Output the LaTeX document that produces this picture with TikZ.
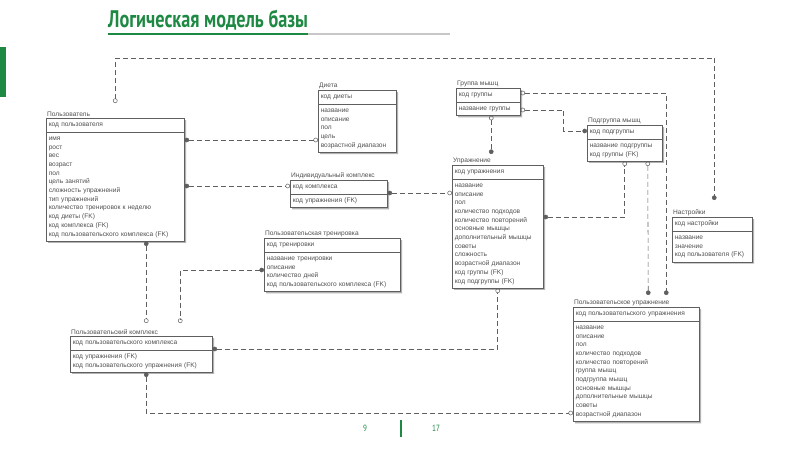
\documentclass[tikz,border=0pt]{standalone}
\usepackage{fontspec}
\setmainfont{Liberation Sans}
\newfontfamily\titlefont[FakeStretch=0.76]{PT Sans}
\newfontfamily\footfont[FakeStretch=0.8]{PT Sans}
\usetikzlibrary{shapes.multipart, arrows.meta, shadows}
\definecolor{slidegreen}{RGB}{30,137,66}
\definecolor{erline}{RGB}{95,95,95}
\definecolor{ertext}{RGB}{80,80,80}
\tikzset{
    % Entity box - key part on top, attributes below
    entity/.style={rectangle split, rectangle split parts=2, draw=erline, line width=0.5pt,
        fill=white, align=left, anchor=north west, inner xsep=2.5pt, inner ysep=2.2pt,
        font=\fontsize{6.6}{8.7}\selectfont, text=ertext,
        drop shadow={shadow xshift=1.8pt, shadow yshift=-1.8pt, fill=black!30, opacity=1}},
    % Entity name above the box
    entity name/.style={anchor=south west, inner sep=1pt, text=ertext,
        font=\fontsize{6.6}{8}\selectfont},
    % Relationship lines - gray dashed
    rel/.style={draw=erline, line width=0.55pt, dash pattern=on 5pt off 3pt},
    % Line ends: filled dot (many side) and hollow circle (zero or one)
    fdot/.tip={Circle[length=4.6pt]},
    hdot/.tip={Circle[open, length=4.6pt, line width=0.5pt]},
    % Slide footer
    pagenum/.style={text=slidegreen, inner sep=0pt, font=\footfont\fontsize{9}{10}\selectfont}
}

\begin{document}
\begin{tikzpicture}[x=1pt, y=-1pt]
    \useasboundingbox (0,0) rectangle (800,450);

    % --- Slide title ---
    \fill[slidegreen] (0,47) rectangle (6,97);
    \node[anchor=base west, inner sep=0pt, text=slidegreen,
        font=\titlefont\bfseries\fontsize{24}{28}\selectfont] (title) at (108,27) {Логическая модель базы};
    \draw[slidegreen, line width=2pt] ([yshift=-7pt]title.base west) -- ([yshift=-7pt]title.base east);
    \draw[black!22, line width=1.3pt] ([yshift=-7pt]title.base east) -- ([xshift=342pt,yshift=-7pt]title.base west);

    % --- Entities ---
    \node[entity, text width=133pt, label={[entity name]north west:Пользователь}] (user) at (46,118)
        {\strut код пользователя\strut
         \nodepart{two}\strut имя\\рост\\вес\\возраст\\пол\\цель занятий\\сложность упражнений\\тип упражнений\\количество тренировок к неделю\\код диеты (FK)\\код комплекса (FK)\\код пользовательского комплекса (FK)\strut};

    \node[entity, text width=73pt, label={[entity name]north west:Диета}] (diet) at (318,90)
        {\strut код диеты\strut
         \nodepart{two}\strut название\\описание\\пол\\цель\\возрастной диапазон\strut};

    \node[entity, text width=59pt, label={[entity name]north west:Группа мышц}] (mgroup) at (456,88)
        {\strut код группы\strut
         \nodepart{two}\strut название группы\strut};

    \node[entity, text width=70pt, label={[entity name]north west:Подгруппа мышц}] (msub) at (587,125)
        {\strut код подгруппы\strut
         \nodepart{two}\strut название подгруппы\\код группы (FK)\strut};

    \node[entity, text width=86pt, label={[entity name]north west:Упражнение}] (exer) at (452,165)
        {\strut код упражнения\strut
         \nodepart{two}\strut название\\описание\\пол\\количество подходов\\количество повторений\\основные мышцы\\дополнительный мышцы\\советы\\сложность\\возрастной диапазон\\код группы (FK)\\код подгруппы (FK)\strut};

    \node[entity, text width=92pt, label={[entity name]north west:Индивидуальный комплекс}] (indiv) at (290,180)
        {\strut код комплекса\strut
         \nodepart{two}\strut код упражнения (FK)\strut};

    \node[entity, text width=131pt, label={[entity name]north west:Пользовательская тренировка}] (utrain) at (264,238)
        {\strut код тренировки\strut
         \nodepart{two}\strut название тренировки\\описание\\количество дней\\код пользовательского комплекса (FK)\strut};

    \node[entity, text width=75pt, label={[entity name]north west:Настройки}] (settings) at (672,217)
        {\strut код настройки\strut
         \nodepart{two}\strut название\\значение\\код пользователя (FK)\strut};

    \node[entity, text width=137pt, label={[entity name]north west:Пользовательский комплекс}] (ucomplex) at (70,336)
        {\strut код пользовательского комплекса\strut
         \nodepart{two}\strut код упражнения (FK)\\код пользовательского упражнения (FK)\strut};

    \node[entity, text width=121pt, label={[entity name]north west:Пользовательское упражнение}] (uexer) at (573,307)
        {\strut код пользовательского упражнения\strut
         \nodepart{two}\strut название\\описание\\пол\\количество подходов\\количество повторений\\группа мышц\\подгруппа мышц\\основные мышцы\\дополнительные мышцы\\советы\\возрастной диапазон\strut};

    % --- Relationships ---
    \draw[rel, hdot-fdot] ([yshift=15pt]user.north) -- ++(0,-45) -| ([xshift=2pt,yshift=17pt]settings.north);
    \draw[rel, fdot-hdot] ([yshift=-22pt]user.north east) -- ([yshift=-50pt]diet.north west);
    \draw[rel, fdot-hdot] ([yshift=-68pt]user.north east) -- ([yshift=-6pt]indiv.north west);
    \draw[rel, fdot-hdot] ([xshift=31pt]user.south) -- ([xshift=5pt,yshift=13pt]ucomplex.north);
    \draw[rel, fdot-hdot] ([yshift=-32pt]utrain.north west) -| ([xshift=39pt,yshift=13pt]ucomplex.north);
    \draw[rel, fdot-hdot] ([yshift=-13pt]ucomplex.north east) -| (exer.south);
    \draw[rel, fdot-hdot] ([xshift=5pt]ucomplex.south) |- ([yshift=-106pt]uexer.north west);
    \draw[rel, fdot-hdot] ([yshift=-13pt]indiv.north east) -- ([yshift=-28pt]exer.north west);
    \draw[rel, hdot-fdot] ([xshift=3pt]mgroup.south) -- ([xshift=-6.5pt,yshift=11pt]exer.north);
    \draw[rel, hdot-fdot] ([yshift=-5pt]mgroup.north east) -| ([xshift=30pt,yshift=12pt]uexer.north);
    \draw[rel, hdot-fdot] ([yshift=-22pt]mgroup.north east) -- ++(43,0) |- ([yshift=-6pt]msub.north west);
    \draw[rel, fdot-hdot] ([yshift=-52pt]exer.north east) -| (msub.south);
    \draw[rel, hdot-fdot] ([xshift=23pt]msub.south) -- ([xshift=12pt,yshift=12pt]uexer.north);

    % --- Footer ---
    \node[pagenum] (pcur) at (365,428) {9};
    \node[pagenum] (pall) at (436,428) {17};
    \draw[slidegreen, line width=1.4pt] (401,420) -- (401,437);

\end{tikzpicture}
\end{document}
